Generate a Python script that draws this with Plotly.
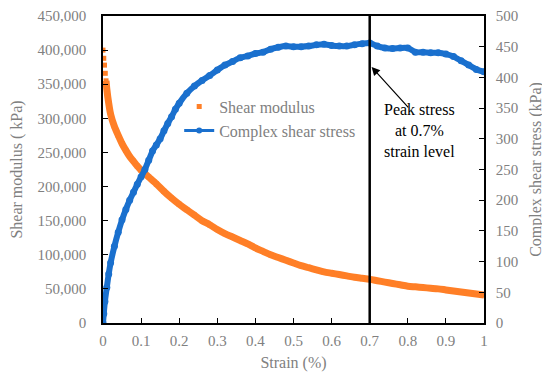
import plotly.graph_objects as go

# Shear modulus (kPa), left axis
strain_g = [0, 0.002, 0.004, 0.006, 0.008, 0.01, 0.015, 0.02, 0.03, 0.04, 0.05, 0.06, 0.07, 0.08, 0.09,
            0.10, 0.11, 0.12, 0.14, 0.16, 0.18, 0.20, 0.22, 0.24, 0.26, 0.28, 0.30, 0.32, 0.34, 0.36,
            0.38, 0.40, 0.42, 0.44, 0.46, 0.48, 0.50, 0.52, 0.54, 0.56, 0.58, 0.60, 0.62, 0.64, 0.66,
            0.68, 0.70, 0.72, 0.74, 0.76, 0.78, 0.80, 0.82, 0.84, 0.86, 0.88, 0.90, 0.92, 0.94, 0.96,
            0.98, 1.0]
shear_modulus = [400000, 388000, 378000, 366000, 355000, 343000, 322000, 306000, 288000, 275000, 263000,
                 253000, 244000, 237000, 230000, 224000, 219000, 214000, 204000, 193000, 183000, 174000,
                 166000, 158000, 150000, 144000, 137000, 131000, 126000, 121000, 116000, 110000, 105000,
                 100000, 96000, 92000, 88000, 84000, 81000, 78000, 75000, 73000, 71000, 69000, 67000,
                 65500, 64000, 62000, 60000, 58000, 56000, 54000, 53000, 52000, 51000, 50000, 48500,
                 47000, 45500, 44000, 42500, 41000]

# Complex shear stress (kPa), right axis
strain_t = [0, 0.002, 0.005, 0.01, 0.015, 0.02, 0.03, 0.04, 0.05, 0.06, 0.07, 0.08, 0.09, 0.10, 0.11,
            0.12, 0.13, 0.14, 0.15, 0.16, 0.17, 0.18, 0.19, 0.20, 0.22, 0.24, 0.26, 0.28, 0.30, 0.32,
            0.34, 0.36, 0.38, 0.40, 0.42, 0.44, 0.46, 0.48, 0.50, 0.52, 0.54, 0.56, 0.58, 0.60, 0.62,
            0.64, 0.66, 0.68, 0.70, 0.72, 0.74, 0.76, 0.78, 0.80, 0.82, 0.84, 0.86, 0.88, 0.90, 0.92,
            0.94, 0.96, 0.98, 1.0]
shear_stress = [0, 15, 35, 58, 80, 98, 125, 148, 168, 185, 200, 213, 226, 238, 250, 265, 280, 290, 300,
                313, 325, 336, 348, 358, 374, 386, 395, 403, 412, 420, 426, 432, 435, 439, 441, 446, 449,
                451, 450, 450, 451, 453, 454, 452, 451, 451, 453, 455, 456, 451, 448, 447, 448, 448, 441,
                441, 440, 440, 438, 434, 427, 420, 413, 409]

x_ticks = [0, 0.1, 0.2, 0.3, 0.4, 0.5, 0.6, 0.7, 0.8, 0.9, 1]
x_tick_labels = ["0", "0.1", "0.2", "0.3", "0.4", "0.5", "0.6", "0.7", "0.8", "0.9", "1"]

ORANGE = "#FF7F27"
BLUE = "#1A70CE"
GRAY = "#808080"
FONT = "Liberation Serif"

fig = go.Figure()

# Orange band (line, no legend) + square markers (legend)
fig.add_trace(go.Scatter(x=strain_g[4:], y=shear_modulus[4:], mode="lines",
                         line=dict(color=ORANGE, width=7, shape="spline", smoothing=0.8),
                         showlegend=False, hoverinfo="skip"))
fig.add_trace(go.Scatter(x=strain_g, y=shear_modulus, mode="markers", name="Shear modulus",
                         marker=dict(symbol="square", size=5, color=ORANGE)))

# Blue band (thick) drawn without legend; a thin legend-only entry follows
fig.add_trace(go.Scatter(x=strain_t, y=shear_stress, mode="lines+markers", name="Complex shear stress",
                         yaxis="y2", line=dict(color=BLUE, width=6, shape="spline", smoothing=0.6),
                         marker=dict(symbol="circle", size=7, color=BLUE), showlegend=False))
fig.add_trace(go.Scatter(x=[None], y=[None], mode="lines+markers", name="Complex shear stress",
                         yaxis="y2", line=dict(color=BLUE, width=3),
                         marker=dict(symbol="circle", size=6, color=BLUE)))

fig.add_shape(type="line", xref="x", yref="paper", x0=0.7, x1=0.7, y0=0, y1=1,
              line=dict(color="black", width=2.5))

fig.add_annotation(x=0.705, y=417, xref="x", yref="y2", text="", showarrow=True,
                   ax=38, ay=42, arrowhead=2, arrowsize=1.4, arrowwidth=1.2, arrowcolor="black")
fig.add_annotation(x=0.832, y=313, xref="x", yref="y2",
                   text="Peak stress<br>at 0.7%<br>strain level", showarrow=False,
                   font=dict(family=FONT, size=16, color="black"), align="center")

axis_common = dict(ticks="inside", ticklen=5, tickcolor="black", showline=True, linecolor="black",
                   linewidth=1.5, showgrid=False, zeroline=False, automargin=False,
                   tickfont=dict(family=FONT, size=15, color=GRAY))

# The page body adds an 8px margin, so the figure is 8px smaller than the window.
fig.update_layout(
    width=542, height=364,
    margin=dict(l=95, r=66, t=8, b=49),
    paper_bgcolor="white", plot_bgcolor="white",
    font=dict(family=FONT, size=16, color=GRAY),
    legend=dict(x=0.2, y=0.76, xanchor="left", yanchor="top", bgcolor="rgba(0,0,0,0)",
                font=dict(family=FONT, size=16, color=GRAY), tracegroupgap=0),
    xaxis=dict(range=[0, 1], tickvals=x_ticks, ticktext=x_tick_labels, mirror=True,
               ticklabelstandoff=3,
               title=dict(text="Strain (%)", font=dict(family=FONT, size=16, color=GRAY), standoff=9),
               **axis_common),
    yaxis=dict(range=[0, 450000], dtick=50000, tickformat=",", ticklabelstandoff=12,
               title=dict(text="Shear modulus ( kPa)", font=dict(family=FONT, size=16, color=GRAY),
                          standoff=12),
               **axis_common),
    yaxis2=dict(range=[0, 500], dtick=50, overlaying="y", side="right", ticklabelstandoff=7,
                title=dict(text="Complex shear stress (kPa)", font=dict(family=FONT, size=16, color=GRAY),
                           standoff=13),
                **axis_common),
)

fig.write_html("out.html")
